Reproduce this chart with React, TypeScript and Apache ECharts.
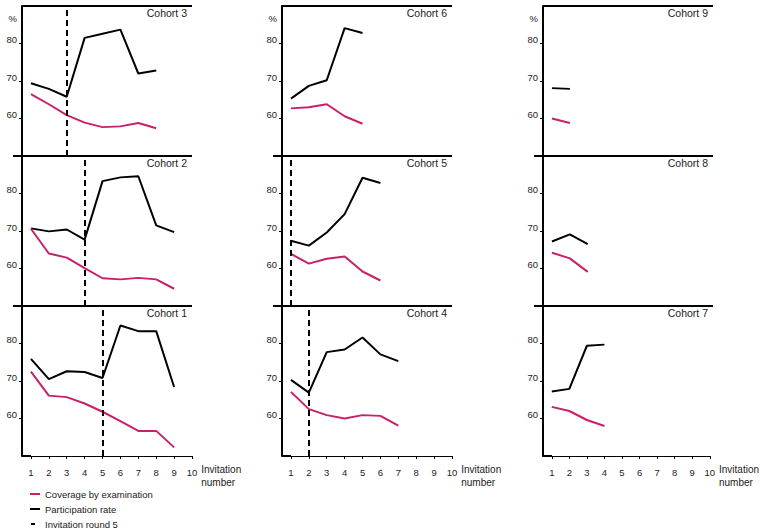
import React, { useEffect, useRef } from "react";
import * as echarts from "echarts";

// ---------- data ----------
const invitationNumbers = [1, 2, 3, 4, 5, 6, 7, 8, 9, 10];
const yTickValues = [60, 70, 80];

const cohort1Participation = [75.9, 70.5, 72.6, 72.4, 70.8, 84.8, 83.3, 83.3, 68.4];
const cohort1Coverage = [72.5, 66.1, 65.7, 64.0, 61.8, 59.3, 56.7, 56.7, 52.3];
const cohort2Participation = [70.7, 69.9, 70.4, 67.7, 83.3, 84.3, 84.6, 71.5, 69.7];
const cohort2Coverage = [70.6, 64.0, 62.9, 60.1, 57.4, 57.1, 57.5, 57.1, 54.6];
const cohort3Participation = [69.4, 67.9, 65.8, 81.5, 82.6, 83.7, 72.0, 72.8];
const cohort3Coverage = [66.5, 63.8, 60.9, 58.9, 57.7, 57.9, 58.8, 57.4];
const cohort4Participation = [70.3, 66.9, 77.7, 78.4, 81.6, 77.1, 75.3];
const cohort4Coverage = [67.1, 62.5, 60.9, 60.0, 60.9, 60.7, 58.1];
const cohort5Participation = [67.4, 66.1, 69.6, 74.5, 84.2, 82.8];
const cohort5Coverage = [63.9, 61.3, 62.6, 63.2, 59.2, 56.8];
const cohort6Participation = [65.3, 68.7, 70.2, 84.1, 82.8];
const cohort6Coverage = [62.7, 63.0, 63.8, 60.6, 58.6];
const cohort7Participation = [67.2, 67.9, 79.4, 79.7];
const cohort7Coverage = [63.1, 62.0, 59.6, 58.0];
const cohort8Participation = [67.2, 69.1, 66.5];
const cohort8Coverage = [64.2, 62.7, 59.1];
const cohort9Participation = [68.1, 67.9];
const cohort9Coverage = [60.0, 58.8];

// invitation number at which invitation round 5 took place (null = none)
const round5ByCohort = [5, 4, 3, 2, 1, null, null, null, null];

const cohortNames = ["Cohort 1", "Cohort 2", "Cohort 3", "Cohort 4", "Cohort 5", "Cohort 6", "Cohort 7", "Cohort 8", "Cohort 9"];
const participationByCohort = [
  cohort1Participation, cohort2Participation, cohort3Participation,
  cohort4Participation, cohort5Participation, cohort6Participation,
  cohort7Participation, cohort8Participation, cohort9Participation,
];
const coverageByCohort = [
  cohort1Coverage, cohort2Coverage, cohort3Coverage,
  cohort4Coverage, cohort5Coverage, cohort6Coverage,
  cohort7Coverage, cohort8Coverage, cohort9Coverage,
];
// panel layout: rows top->bottom, columns left->right (cohort index 0-based)
const panelLayout = [
  [2, 5, 8],
  [1, 4, 7],
  [0, 3, 6],
];

const legendLabels = ["Coverage by examination", "Participation rate", "Invitation round 5"];

// ---------- style / layout ----------
const PINK = "#c8206a";
const FONT = "'Liberation Sans', Arial, Helvetica, sans-serif";
const COL_LEFT = [22, 282, 543];
const ROW_TOP = [6, 156, 306];
const PANEL_W = 170;
const PANEL_H = 150;

export default function App() {
  const ref = useRef<HTMLDivElement>(null);

  useEffect(() => {
    document.body.style.margin = "0";
    const chart = echarts.init(ref.current!, null, { renderer: "svg" });

    const grid: any[] = [];
    const xAxis: any[] = [];
    const yAxis: any[] = [];
    const series: any[] = [];
    const graphic: any[] = [];

    let idx = 0;
    panelLayout.forEach((rowCohorts, r) => {
      rowCohorts.forEach((ci, c) => {
        const isBottom = r === 2;
        const isTop = r === 0;
        grid.push({
          left: COL_LEFT[c],
          top: ROW_TOP[r],
          width: PANEL_W,
          height: PANEL_H,
          containLabel: false,
        });
        xAxis.push({
          gridIndex: idx,
          type: "value",
          min: 0.5,
          max: 10,
          axisLine: { show: isBottom, onZero: false, lineStyle: { color: "#000", width: 1 } },
          axisTick: { show: isBottom, customValues: invitationNumbers, length: 3, lineStyle: { color: "#000", width: 1 } },
          axisLabel: {
            show: isBottom,
            customValues: invitationNumbers,
            fontSize: 9.5,
            color: "#222",
            margin: 11,
            fontFamily: FONT,
          },
          splitLine: { show: false },
          name: isBottom ? "Invitation\nnumber" : "",
          nameLocation: "end",
          nameGap: 6,
          nameTextStyle: {
            align: "left",
            verticalAlign: "top",
            fontSize: 10,
            lineHeight: 13,
            color: "#222",
            fontFamily: FONT,
            padding: [7, 0, 0, 0],
          },
        });
        yAxis.push({
          gridIndex: idx,
          type: "value",
          min: 50,
          max: 90,
          axisLine: { show: true, onZero: false, lineStyle: { color: "#000", width: 2 } },
          axisTick: { show: true, customValues: yTickValues, length: 3, lineStyle: { color: "#000", width: 1 } },
          axisLabel: {
            customValues: yTickValues,
            fontSize: 9.5,
            color: "#222",
            margin: 5,
            verticalAlign: "bottom",
            lineHeight: 8,
            fontFamily: FONT,
          },
          splitLine: { show: false },
          name: isTop ? "%" : "",
          nameLocation: "end",
          nameGap: -12,
          nameTextStyle: {
            align: "right",
            verticalAlign: "middle",
            fontSize: 9.5,
            color: "#222",
            padding: [0, 5, 0, 0],
            fontFamily: FONT,
          },
        });

        const round5 = round5ByCohort[ci];
        series.push({
          type: "line",
          name: "Participation rate",
          xAxisIndex: idx,
          yAxisIndex: idx,
          data: participationByCohort[ci].map((v, k) => [invitationNumbers[k], v]),
          symbol: "none",
          showSymbol: false,
          lineStyle: { color: "#000", width: 2 },
          itemStyle: { color: "#000" },
          z: 3,
          markLine:
            round5 != null
              ? {
                  silent: true,
                  symbol: ["none", "none"],
                  label: { show: false },
                  lineStyle: { color: "#000", width: 2, type: [6, 4] },
                  data: [{ xAxis: round5 }],
                }
              : undefined,
        });
        series.push({
          type: "line",
          name: "Coverage by examination",
          xAxisIndex: idx,
          yAxisIndex: idx,
          data: coverageByCohort[ci].map((v, k) => [invitationNumbers[k], v]),
          symbol: "none",
          showSymbol: false,
          lineStyle: { color: PINK, width: 2 },
          itemStyle: { color: PINK },
          z: 3,
        });

        // top separator line of the panel
        graphic.push({
          type: "line",
          shape: {
            x1: isTop ? COL_LEFT[c] : COL_LEFT[c] - 9,
            y1: ROW_TOP[r],
            x2: COL_LEFT[c] + PANEL_W,
            y2: ROW_TOP[r],
          },
          style: { stroke: "#000", lineWidth: 2 },
          silent: true,
        });
        if (isBottom) {
          graphic.push({
            type: "line",
            shape: {
              x1: COL_LEFT[c],
              y1: ROW_TOP[r] + PANEL_H,
              x2: COL_LEFT[c] + 9,
              y2: ROW_TOP[r] + PANEL_H,
            },
            style: { stroke: "#000", lineWidth: 2 },
            silent: true,
          });
        }
        // cohort label
        graphic.push({
          type: "text",
          x: COL_LEFT[c] + PANEL_W - 5,
          y: ROW_TOP[r] + 7,
          style: {
            text: cohortNames[ci],
            align: "right",
            verticalAlign: "middle",
            fontSize: 10.5,
            fill: "#222",
            fontFamily: FONT,
          },
          silent: true,
        });
        idx++;
      });
    });

    // legend
    const legendY = [494, 509, 524];
    const legendColors = [PINK, "#000", "#000"];
    legendLabels.forEach((label, i) => {
      const isDash = i === 2;
      graphic.push({
        type: "line",
        shape: { x1: isDash ? 31 : 30, y1: legendY[i], x2: isDash ? 35 : 40, y2: legendY[i] },
        style: { stroke: legendColors[i], lineWidth: 2 },
        silent: true,
      });
      graphic.push({
        type: "text",
        x: 45,
        y: legendY[i],
        style: {
          text: label,
          verticalAlign: "middle",
          align: "left",
          fontSize: 9.5,
          fill: "#222",
          fontFamily: FONT,
        },
        silent: true,
      });
    });

    chart.setOption({
      animation: false,
      backgroundColor: "#fff",
      textStyle: { fontFamily: FONT },
      grid,
      xAxis,
      yAxis,
      series,
      graphic,
    });

    return () => chart.dispose();
  }, []);

  return <div ref={ref} style={{ width: 760, height: 531 }} />;
}
